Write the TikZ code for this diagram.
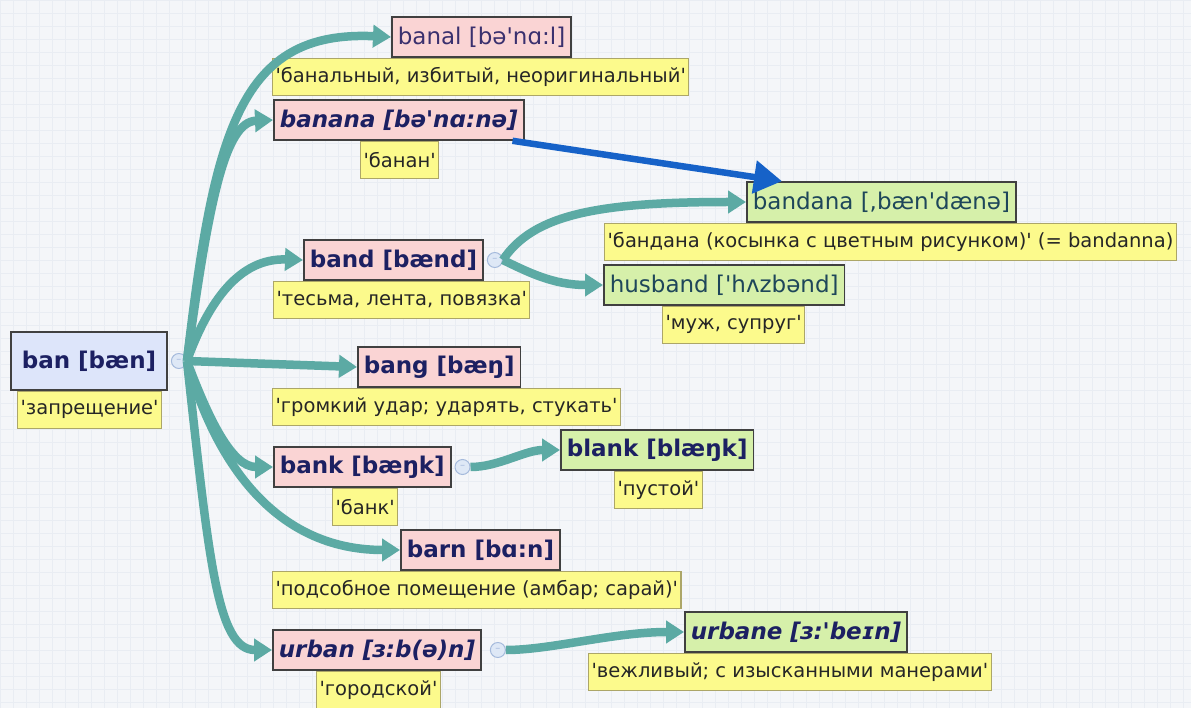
\documentclass[tikz,border=0pt]{standalone}
\usepackage{fontspec}
\setmainfont{DejaVu Sans}
\usetikzlibrary{arrows.meta,positioning}

\definecolor{paper}{RGB}{244,246,249}
\definecolor{gridline}{RGB}{233,237,243}
\definecolor{wordpink}{RGB}{250,212,212}
\definecolor{wordgreen}{RGB}{214,240,170}
\definecolor{rootblue}{RGB}{221,229,250}
\definecolor{glossyellow}{RGB}{252,250,140}
\definecolor{glossedge}{RGB}{172,166,104}
\definecolor{inknavy}{RGB}{28,32,98}
\definecolor{inkplum}{RGB}{58,48,110}
\definecolor{inkteal}{RGB}{30,70,90}
\definecolor{linkteal}{RGB}{92,170,164}
\definecolor{refblue}{RGB}{22,98,200}
\definecolor{togfill}{RGB}{222,232,246}
\definecolor{togedge}{RGB}{165,186,220}

\newcommand{\q}{\textquotesingle}

\begin{document}
\begin{tikzpicture}[
  x=1pt, y=-1pt,
  word/.style={draw=black!75, line width=1.6pt, fill=wordpink, text=inknavy,
    font=\fontsize{23}{26}\selectfont\bfseries, minimum height=40pt,
    inner xsep=6pt, inner ysep=0pt, anchor=west},
  plain/.style={font=\fontsize{23}{26}\selectfont, text=inkplum},
  slant/.style={font=\fontsize{23}{26}\selectfont\bfseries\itshape},
  kin/.style={fill=wordgreen},
  gloss/.style={draw=glossedge, line width=1.2pt, fill=glossyellow, text=black!85,
    font=\fontsize{19.5}{22}\selectfont, minimum height=37pt,
    inner xsep=3pt, inner ysep=0pt, anchor=north west},
  tog/.style={circle, draw=togedge, line width=1pt, fill=togfill, minimum size=15pt,
    inner sep=0pt, font=\fontsize{10}{10}\selectfont, text=togedge},
  link/.style={draw=linkteal, line width=8.5pt, -{Triangle[length=18pt,width=22pt]}},
  ref/.style={draw=refblue, line width=6.5pt, -{Triangle[length=28pt,width=32pt]}}
]
\useasboundingbox (0,0) rectangle (1191,708);
\fill[paper] (0,0) rectangle (1191,708);
\draw[gridline, step=13pt] (0,708) grid (1191,0);

% root word
\node[word, fill=rootblue, minimum height=58pt, inner xsep=11pt] (ban) at (10,361) {ban [bæn]};
\node[gloss] (banG) at ([xshift=7pt]ban.south west) {\q запрещение\q};
\node[tog, right=3pt of ban] (banT) {–};

% derived words
\node[word, plain] (banal) at (391,37) {banal [bə\q nɑ:l]};
\node[gloss] (banalG) at ([xshift=-119pt]banal.south west) {\q банальный, избитый, неоригинальный\q};

\node[word, slant] (banana) at (273,120) {banana [bə\q nɑ:nə]};
\node[gloss] (bananaG) at ([xshift=87pt]banana.south west) {\q банан\q};

\node[word, plain, kin, text=inkteal] (bandana) at (746,202) {bandana [,bæn\q dænə]};
\node[gloss] (bandanaG) at ([xshift=-142pt]bandana.south west) {\q бандана (косынка с цветным рисунком)\q{} (= bandanna)};

\node[word] (band) at (303,260) {band [bænd]};
\node[gloss] (bandG) at ([xshift=-30pt]band.south west) {\q тесьма, лента, повязка\q};
\node[tog, right=3pt of band] (bandT) {–};

\node[word, plain, kin, text=inkteal] (husband) at (603,285) {husband [\q hʌzbənd]};
\node[gloss] (husbandG) at ([xshift=59pt]husband.south west) {\q муж, супруг\q};

\node[word] (bang) at (357,367) {bang [bæŋ]};
\node[gloss] (bangG) at ([xshift=-85pt]bang.south west) {\q громкий удар; ударять, стукать\q};

\node[word] (bank) at (273,467) {bank [bæŋk]};
\node[gloss] (bankG) at ([xshift=59pt]bank.south west) {\q банк\q};
\node[tog, right=3pt of bank] (bankT) {–};

\node[word, kin] (blank) at (560,450) {blank [blæŋk]};
\node[gloss] (blankG) at ([xshift=54pt]blank.south west) {\q пустой\q};

\node[word] (barn) at (400,550) {barn [bɑ:n]};
\node[gloss] (barnG) at ([xshift=-128pt]barn.south west) {\q подсобное помещение (амбар; сарай)\q};

\node[word, slant] (urban) at (272,650) {urban [ɜ:b(ə)n]};
\node[gloss] (urbanG) at ([xshift=44pt]urban.south west) {\q городской\q};
\node[tog, right=8pt of urban] (urbanT) {–};

\node[word, slant, kin] (urbane) at (684,632) {urbane [ɜ:\q beɪn]};
\node[gloss] (urbaneG) at ([xshift=-96pt]urbane.south west) {\q вежливый; с изысканными манерами\q};

% branches out of the root
\draw[link] (banT.east) .. controls (214,130) and (240,30) .. (banal.west);
\draw[link] (banT.east) .. controls (209,200) and (225,122) .. (banana.west);
\draw[link] (banT.east) .. controls (209,300) and (240,258) .. (band.west);
\draw[link] (banT.east) -- (bang.west);
\draw[link] (banT.east) .. controls (209,420) and (232,467) .. (bank.west);
\draw[link] (banT.east) .. controls (209,440) and (262,550) .. (barn.west);
\draw[link] (banT.east) .. controls (209,560) and (217,650) .. (urban.west);

% second level
\draw[link] (bandT.east) .. controls +(30,-45) and +(-150,0) .. (bandana.west);
\draw[link] (bandT.east) .. controls +(25,12) and +(-50,0) .. (husband.west);
\draw[link] (bankT.east) .. controls +(28,0) and +(-35,0) .. (blank.west);
\draw[link] (urbanT.east) .. controls +(45,0) and +(-70,0) .. (urbane.west);

% cross reference
\draw[ref] ([xshift=-12pt]banana.south east) -- ([xshift=36pt]bandana.north west);
\end{tikzpicture}
\end{document}
